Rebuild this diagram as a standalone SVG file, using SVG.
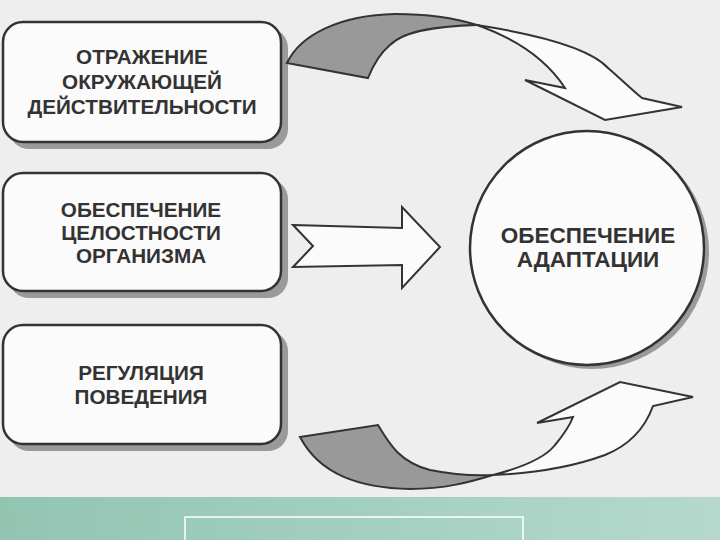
<svg xmlns="http://www.w3.org/2000/svg" width="720" height="540" viewBox="0 0 720 540">
<defs>
<style>
.box{fill:#fbfbfb;stroke:#333;stroke-width:2.5}
.shadow{fill:#9a9a9a}
.lbl{font-family:"Liberation Sans",Arial,sans-serif;font-weight:bold;font-size:20.7px;fill:#333;text-anchor:middle}
.big{font-size:22.5px}
.arr{fill:#fbfbfb;stroke:#333;stroke-width:2;stroke-linejoin:miter}
.arrg{fill:#999;stroke:#333;stroke-width:2}
</style>
<linearGradient id="band" x1="0" y1="0" x2="1" y2="0">
<stop offset="0" stop-color="#93c4b2"/>
<stop offset="0.5" stop-color="#a3cfc0"/>
<stop offset="1" stop-color="#b6d8cd"/>
</linearGradient>
</defs>
<rect x="0" y="0" width="720" height="540" fill="#eeeeee"/>

<g id="node-reflection">
<rect class="shadow" x="9" y="28" width="279" height="121" rx="20"/>
<rect class="box" x="3" y="22" width="278" height="120" rx="20"/>
<text class="lbl" x="142" y="64">ОТРАЖЕНИЕ</text>
<text class="lbl" x="142" y="89">ОКРУЖАЮЩЕЙ</text>
<text class="lbl" x="142" y="114">ДЕЙСТВИТЕЛЬНОСТИ</text>
</g>

<g id="node-integrity">
<rect class="shadow" x="9" y="179" width="279" height="119" rx="20"/>
<rect class="box" x="3" y="173" width="278" height="118" rx="20"/>
<text class="lbl" x="141" y="217">ОБЕСПЕЧЕНИЕ</text>
<text class="lbl" x="141" y="240">ЦЕЛОСТНОСТИ</text>
<text class="lbl" x="141" y="263">ОРГАНИЗМА</text>
</g>

<g id="node-behavior">
<rect class="shadow" x="9" y="331" width="279" height="120" rx="20"/>
<rect class="box" x="3" y="325" width="278" height="119" rx="20"/>
<text class="lbl" x="141" y="380">РЕГУЛЯЦИЯ</text>
<text class="lbl" x="141" y="404">ПОВЕДЕНИЯ</text>
</g>

<g id="node-adaptation">
<circle cx="592" cy="252" r="117" fill="#9a9a9a"/>
<circle cx="587" cy="248" r="117" class="box"/>
<text class="lbl big" x="588" y="243">ОБЕСПЕЧЕНИЕ</text>
<text class="lbl big" x="588" y="267">АДАПТАЦИИ</text>
</g>

<g id="connectors">
<path class="arr" d="M293,225 L402,228 L402,207 L440,247 L402,288 L402,265 L293,267 L313,246 Z"/>
<path class="arrg" d="M287,63 C300,35 340,15 395,14 C430,14 455,18 477,25 C440,26 405,30 390,45 C378,55 372,68 368,78 Z"/>
<path class="arr" d="M477,25 C540,35 590,48 608,68 C622,80 632,90 642,98 L682,107 L605,120 L525,80 L565,88 C550,65 525,42 477,25 Z"/>
<path class="arrg" d="M300,437 L378,425 C390,445 400,462 430,470 C450,474 470,476 493,475 C470,482 445,489 410,489 C360,488 320,475 300,437 Z"/>
<path class="arr" d="M493,475 C520,468 545,458 555,445 C565,433 570,425 573,417 L537,423 L620,382 L693,397 L653,406 C645,428 630,445 605,455 C575,466 540,473 493,475 Z"/>
</g>

<g id="footer">
<rect x="0" y="497" width="720" height="43" fill="url(#band)"/>
<path d="M185,540 L185,517 L523,517 L523,540" fill="none" stroke="#ffffff" stroke-width="1.5"/>
</g>
</svg>
